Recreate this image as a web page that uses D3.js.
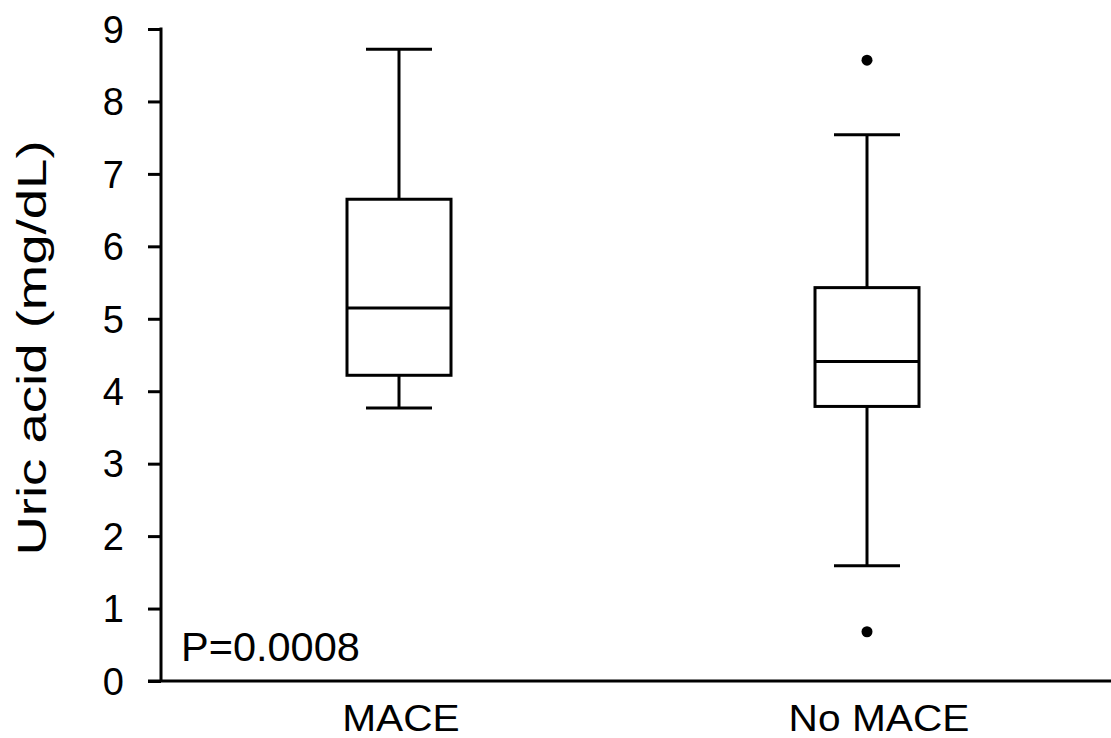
<!DOCTYPE html>
<html>
<head>
<meta charset="utf-8">
<script src="https://cdn.jsdelivr.net/npm/d3@7"></script>
<style>
  body { margin: 0; background: #fff; }
  text { font-family: "Liberation Sans", Arial, sans-serif; fill: #000; }
</style>
</head>
<body>
<div id="chart"></div>
<script>
// box plot summaries
const groups = ["MACE", "No MACE"];
const whiskerLow = [3.77, 1.59];
const q1 = [4.22, 3.79];
const median = [5.15, 4.41];
const q3 = [6.65, 5.43];
const whiskerHigh = [8.72, 7.54];
const outliers = [[], [8.57, 0.68]];
const yTicks = [0, 1, 2, 3, 4, 5, 6, 7, 8, 9];
const pLabel = "P=0.0008";

const width = 1111, height = 738;
const margin = {top: 29, right: 0, bottom: 57, left: 161};

const svg = d3.select("#chart").append("svg")
    .attr("width", width)
    .attr("height", height);

const y = d3.scaleLinear().domain([0, 9]).range([height - margin.bottom, margin.top]);
const x = d3.scalePoint().domain(groups).range([165, 1101]).padding(0.5);

const boxW = 104, capW = 66;
const labelShift = [2, 12];

// y axis
const yAxis = svg.append("g")
    .attr("transform", "translate(" + margin.left + ",0)")
    .call(d3.axisLeft(y).tickValues(yTicks).tickSize(13).tickPadding(24).tickFormat(d3.format("d")));
yAxis.select(".domain").attr("d", "M0," + (y(9) - 1.5) + "V" + y(0)).attr("stroke-width", 3);
yAxis.selectAll(".tick line").attr("stroke-width", 3);
yAxis.selectAll(".tick text")
    .attr("font-size", 38)
    .attr("font-family", "Liberation Sans, Arial, sans-serif")
    .attr("dy", "0.35em");

// x axis line
svg.append("line")
    .attr("x1", margin.left - 13).attr("x2", width)
    .attr("y1", y(0)).attr("y2", y(0))
    .attr("stroke", "#000").attr("stroke-width", 3);

// category labels
svg.selectAll(".xlab")
    .data(groups)
    .enter().append("text")
    .attr("class", "xlab")
    .attr("transform", (d, i) => "translate(" + (x(d) + labelShift[i]) + "," + (y(0) + 50) + ") scale(1.13,1)")
    .attr("text-anchor", "middle")
    .attr("font-size", 36)
    .text((d) => d);

// boxes
const g = svg.selectAll(".box")
    .data(groups.map((d, i) => ({name: d, i: i})))
    .enter().append("g")
    .attr("class", "box")
    .attr("fill", "none")
    .attr("stroke", "#000")
    .attr("stroke-width", 3);

g.append("line")
    .attr("x1", (d) => x(d.name)).attr("x2", (d) => x(d.name))
    .attr("y1", (d) => y(whiskerHigh[d.i])).attr("y2", (d) => y(q3[d.i]));
g.append("line")
    .attr("x1", (d) => x(d.name)).attr("x2", (d) => x(d.name))
    .attr("y1", (d) => y(q1[d.i])).attr("y2", (d) => y(whiskerLow[d.i]));
g.append("line")
    .attr("x1", (d) => x(d.name) - capW / 2).attr("x2", (d) => x(d.name) + capW / 2)
    .attr("y1", (d) => y(whiskerHigh[d.i])).attr("y2", (d) => y(whiskerHigh[d.i]));
g.append("line")
    .attr("x1", (d) => x(d.name) - capW / 2).attr("x2", (d) => x(d.name) + capW / 2)
    .attr("y1", (d) => y(whiskerLow[d.i])).attr("y2", (d) => y(whiskerLow[d.i]));
g.append("rect")
    .attr("x", (d) => x(d.name) - boxW / 2)
    .attr("width", boxW)
    .attr("y", (d) => y(q3[d.i]))
    .attr("height", (d) => y(q1[d.i]) - y(q3[d.i]))
    .attr("fill", "#fff");
g.append("line")
    .attr("x1", (d) => x(d.name) - boxW / 2).attr("x2", (d) => x(d.name) + boxW / 2)
    .attr("y1", (d) => y(median[d.i])).attr("y2", (d) => y(median[d.i]));

// outliers
groups.forEach((name, i) => {
    svg.selectAll(".out" + i)
        .data(outliers[i])
        .enter().append("circle")
        .attr("cx", x(name))
        .attr("cy", (d) => y(d))
        .attr("r", 5.5)
        .attr("fill", "#000");
});

// y title
svg.append("text")
    .attr("transform", "translate(46," + ((y(9) + y(0)) / 2 - 7) + ") rotate(-90) scale(1.33,1)")
    .attr("text-anchor", "middle")
    .attr("font-size", 41)
    .text("Uric acid (mg/dL)");

// p value
svg.append("text")
    .attr("x", 181)
    .attr("y", 661)
    .attr("font-size", 41.5)
    .text(pLabel);
</script>
</body>
</html>
